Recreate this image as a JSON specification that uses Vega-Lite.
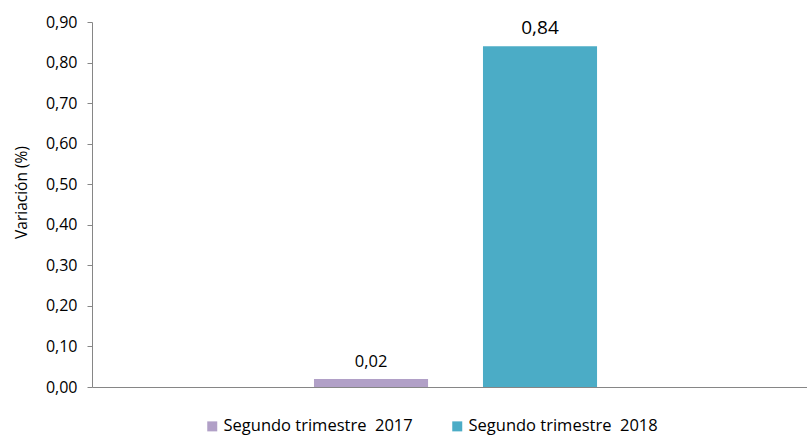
{
  "$schema": "https://vega.github.io/schema/vega-lite/v6.json",
  "width": 715,
  "height": 365,
  "autosize": {"type": "none"},
  "padding": {"left": 92, "top": 22, "right": 0, "bottom": 48},
  "background": "white",
  "data": {"values": [
    {"serie": "Segundo trimestre \u00a02017", "valor": 0.02},
    {"serie": "Segundo trimestre \u00a02018", "valor": 0.84}
  ]},
  "encoding": {
    "x": {"field": "serie", "type": "nominal", "sort": null,
      "scale": {"domain": ["a", "Segundo trimestre \u00a02017", "Segundo trimestre \u00a02018", "b"], "paddingInner": 0.325, "paddingOuter": 0.278, "align": 0.564},
      "axis": {"labels": false, "ticks": false, "title": null, "domainColor": "#868686", "domainWidth": 1}},
    "y": {"field": "valor", "type": "quantitative",
      "scale": {"domain": [0, 0.9], "nice": false},
      "axis": {"values": [0, 0.1, 0.2, 0.3, 0.4, 0.5, 0.6, 0.7, 0.8, 0.9], "format": ".2f",
        "title": "Variación (%)", "grid": false, "domainColor": "#868686", "tickColor": "#868686",
        "tickSize": 5, "labelFontSize": 16, "labelColor": "#000000", "labelPadding": 10,
        "titleFontSize": 15.5, "titleFontWeight": "normal", "titleColor": "#000000", "titlePadding": 16, "titleY": 170}}
  },
  "layer": [
    {"mark": {"type": "bar"},
     "encoding": {"color": {"field": "serie", "type": "nominal", "sort": null,
        "scale": {"domain": ["Segundo trimestre \u00a02017", "Segundo trimestre \u00a02018"], "range": ["#b1a0c7", "#4bacc6"]},
        "legend": {"title": null, "orient": "none", "direction": "horizontal", "legendX": 112, "legendY": 396,
          "symbolType": "square", "symbolSize": 100, "symbolStrokeWidth": 0, "labelFontSize": 16.5, "labelLimit": 400, "labelColor": "#000000", "columnPadding": 36, "labelOffset": 3}}}},
    {"mark": {"type": "text", "dy": -12, "baseline": "alphabetic", "color": "#000000"},
     "encoding": {"text": {"field": "valor", "type": "quantitative", "format": ".2f"},
       "size": {"condition": {"test": "datum.valor > 0.5", "value": 19}, "value": 16.5}}}
  ],
  "config": {
    "font": "Open Sans",
    "view": {"stroke": null},
    "locale": {"number": {"decimal": ",", "thousands": ".", "grouping": [3], "currency": ["", " €"]}}
  }
}
